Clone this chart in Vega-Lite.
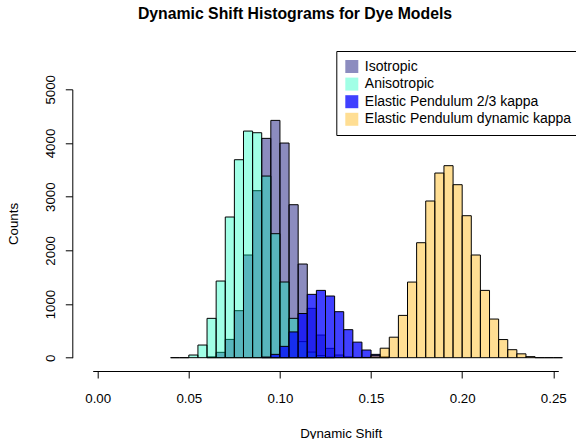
{
  "$schema": "https://vega.github.io/schema/vega-lite/v6.json",
  "autosize": {"type": "none"},
  "padding": {"left": 92.7, "top": 89.3, "right": 17.7, "bottom": 81.3},
  "width": 465.6,
  "height": 268.4,
  "background": "white",
  "title": {
    "text": "Dynamic Shift Histograms for Dye Models",
    "font": "Liberation Sans",
    "fontSize": 15.8,
    "fontWeight": "bold",
    "color": "black",
    "anchor": "middle",
    "frame": "group",
    "dx": -30.5,
    "offset": 28
  },
  "data": {
    "values": [
      {"model": "Isotropic", "bin_start": 0.060, "bin_end": 0.065, "count": 15},
      {"model": "Isotropic", "bin_start": 0.065, "bin_end": 0.070, "count": 100},
      {"model": "Isotropic", "bin_start": 0.070, "bin_end": 0.075, "count": 341},
      {"model": "Isotropic", "bin_start": 0.075, "bin_end": 0.080, "count": 876},
      {"model": "Isotropic", "bin_start": 0.080, "bin_end": 0.085, "count": 1913},
      {"model": "Isotropic", "bin_start": 0.085, "bin_end": 0.090, "count": 3111},
      {"model": "Isotropic", "bin_start": 0.090, "bin_end": 0.095, "count": 4086},
      {"model": "Isotropic", "bin_start": 0.095, "bin_end": 0.100, "count": 4421},
      {"model": "Isotropic", "bin_start": 0.100, "bin_end": 0.105, "count": 3999},
      {"model": "Isotropic", "bin_start": 0.105, "bin_end": 0.110, "count": 2850},
      {"model": "Isotropic", "bin_start": 0.110, "bin_end": 0.115, "count": 1745},
      {"model": "Isotropic", "bin_start": 0.115, "bin_end": 0.120, "count": 919},
      {"model": "Isotropic", "bin_start": 0.120, "bin_end": 0.125, "count": 422},
      {"model": "Isotropic", "bin_start": 0.125, "bin_end": 0.130, "count": 174},
      {"model": "Isotropic", "bin_start": 0.130, "bin_end": 0.135, "count": 50},
      {"model": "Isotropic", "bin_start": 0.135, "bin_end": 0.140, "count": 15},
      {"model": "Isotropic", "bin_start": 0.140, "bin_end": 0.145, "count": 5},
      {"model": "Anisotropic", "bin_start": 0.040, "bin_end": 0.045, "count": 0},
      {"model": "Anisotropic", "bin_start": 0.045, "bin_end": 0.050, "count": 0},
      {"model": "Anisotropic", "bin_start": 0.050, "bin_end": 0.055, "count": 50},
      {"model": "Anisotropic", "bin_start": 0.055, "bin_end": 0.060, "count": 236},
      {"model": "Anisotropic", "bin_start": 0.060, "bin_end": 0.065, "count": 733},
      {"model": "Anisotropic", "bin_start": 0.065, "bin_end": 0.070, "count": 1428},
      {"model": "Anisotropic", "bin_start": 0.070, "bin_end": 0.075, "count": 2621},
      {"model": "Anisotropic", "bin_start": 0.075, "bin_end": 0.080, "count": 3688},
      {"model": "Anisotropic", "bin_start": 0.080, "bin_end": 0.085, "count": 4222},
      {"model": "Anisotropic", "bin_start": 0.085, "bin_end": 0.090, "count": 4191},
      {"model": "Anisotropic", "bin_start": 0.090, "bin_end": 0.095, "count": 3384},
      {"model": "Anisotropic", "bin_start": 0.095, "bin_end": 0.100, "count": 2310},
      {"model": "Anisotropic", "bin_start": 0.100, "bin_end": 0.105, "count": 1410},
      {"model": "Anisotropic", "bin_start": 0.105, "bin_end": 0.110, "count": 733},
      {"model": "Anisotropic", "bin_start": 0.110, "bin_end": 0.115, "count": 300},
      {"model": "Anisotropic", "bin_start": 0.115, "bin_end": 0.120, "count": 105},
      {"model": "Anisotropic", "bin_start": 0.120, "bin_end": 0.125, "count": 40},
      {"model": "Anisotropic", "bin_start": 0.125, "bin_end": 0.130, "count": 10},
      {"model": "Elastic Pendulum 2/3 kappa", "bin_start": 0.090, "bin_end": 0.095, "count": 12},
      {"model": "Elastic Pendulum 2/3 kappa", "bin_start": 0.095, "bin_end": 0.100, "count": 62},
      {"model": "Elastic Pendulum 2/3 kappa", "bin_start": 0.100, "bin_end": 0.105, "count": 211},
      {"model": "Elastic Pendulum 2/3 kappa", "bin_start": 0.105, "bin_end": 0.110, "count": 480},
      {"model": "Elastic Pendulum 2/3 kappa", "bin_start": 0.110, "bin_end": 0.115, "count": 823},
      {"model": "Elastic Pendulum 2/3 kappa", "bin_start": 0.115, "bin_end": 0.120, "count": 1180},
      {"model": "Elastic Pendulum 2/3 kappa", "bin_start": 0.120, "bin_end": 0.125, "count": 1254},
      {"model": "Elastic Pendulum 2/3 kappa", "bin_start": 0.125, "bin_end": 0.130, "count": 1149},
      {"model": "Elastic Pendulum 2/3 kappa", "bin_start": 0.130, "bin_end": 0.135, "count": 857},
      {"model": "Elastic Pendulum 2/3 kappa", "bin_start": 0.135, "bin_end": 0.140, "count": 522},
      {"model": "Elastic Pendulum 2/3 kappa", "bin_start": 0.140, "bin_end": 0.145, "count": 290},
      {"model": "Elastic Pendulum 2/3 kappa", "bin_start": 0.145, "bin_end": 0.150, "count": 143},
      {"model": "Elastic Pendulum 2/3 kappa", "bin_start": 0.150, "bin_end": 0.155, "count": 62},
      {"model": "Elastic Pendulum 2/3 kappa", "bin_start": 0.155, "bin_end": 0.160, "count": 15},
      {"model": "Elastic Pendulum dynamic kappa", "bin_start": 0.145, "bin_end": 0.150, "count": 5},
      {"model": "Elastic Pendulum dynamic kappa", "bin_start": 0.150, "bin_end": 0.155, "count": 37},
      {"model": "Elastic Pendulum dynamic kappa", "bin_start": 0.155, "bin_end": 0.160, "count": 177},
      {"model": "Elastic Pendulum dynamic kappa", "bin_start": 0.160, "bin_end": 0.165, "count": 382},
      {"model": "Elastic Pendulum dynamic kappa", "bin_start": 0.165, "bin_end": 0.170, "count": 788},
      {"model": "Elastic Pendulum dynamic kappa", "bin_start": 0.170, "bin_end": 0.175, "count": 1409},
      {"model": "Elastic Pendulum dynamic kappa", "bin_start": 0.175, "bin_end": 0.180, "count": 2142},
      {"model": "Elastic Pendulum dynamic kappa", "bin_start": 0.180, "bin_end": 0.185, "count": 2919},
      {"model": "Elastic Pendulum dynamic kappa", "bin_start": 0.185, "bin_end": 0.190, "count": 3440},
      {"model": "Elastic Pendulum dynamic kappa", "bin_start": 0.190, "bin_end": 0.195, "count": 3577},
      {"model": "Elastic Pendulum dynamic kappa", "bin_start": 0.195, "bin_end": 0.200, "count": 3223},
      {"model": "Elastic Pendulum dynamic kappa", "bin_start": 0.200, "bin_end": 0.205, "count": 2645},
      {"model": "Elastic Pendulum dynamic kappa", "bin_start": 0.205, "bin_end": 0.210, "count": 1913},
      {"model": "Elastic Pendulum dynamic kappa", "bin_start": 0.210, "bin_end": 0.215, "count": 1254},
      {"model": "Elastic Pendulum dynamic kappa", "bin_start": 0.215, "bin_end": 0.220, "count": 720},
      {"model": "Elastic Pendulum dynamic kappa", "bin_start": 0.220, "bin_end": 0.225, "count": 338},
      {"model": "Elastic Pendulum dynamic kappa", "bin_start": 0.225, "bin_end": 0.230, "count": 149},
      {"model": "Elastic Pendulum dynamic kappa", "bin_start": 0.230, "bin_end": 0.235, "count": 72},
      {"model": "Elastic Pendulum dynamic kappa", "bin_start": 0.235, "bin_end": 0.240, "count": 20},
      {"model": "Elastic Pendulum dynamic kappa", "bin_start": 0.240, "bin_end": 0.245, "count": 0},
      {"model": "Elastic Pendulum dynamic kappa", "bin_start": 0.245, "bin_end": 0.250, "count": 0},
      {"model": "Elastic Pendulum dynamic kappa", "bin_start": 0.250, "bin_end": 0.255, "count": 0}
    ]
  },
  "mark": {"type": "bar", "stroke": "black", "strokeWidth": 1, "orient": "vertical"},
  "encoding": {
    "x": {
      "field": "bin_start",
      "type": "quantitative",
      "scale": {"domain": [0, 0.25], "nice": false, "zero": false},
      "axis": {
        "orient": "bottom",
        "offset": 13.3,
        "values": [0, 0.05, 0.1, 0.15, 0.2, 0.25],
        "format": ".2f",
        "grid": false,
        "tickSize": 7,
        "tickColor": "black",
        "domainColor": "black",
        "labelFont": "Liberation Sans",
        "labelFontSize": 13.3,
        "labelColor": "black",
        "labelPadding": 13,
        "labelFlush": false,
        "title": "Dynamic Shift",
        "titleFont": "Liberation Sans",
        "titleFontSize": 13.3,
        "titleFontWeight": "normal",
        "titleColor": "black",
        "titleAlign": "center",
        "titleBaseline": "alphabetic",
        "titleX": 248,
        "titleY": 66
      }
    },
    "x2": {"field": "bin_end"},
    "y": {
      "field": "count",
      "type": "quantitative",
      "stack": null,
      "scale": {"domain": [0, 5000], "nice": false},
      "axis": {
        "orient": "left",
        "offset": 20.4,
        "values": [0, 1000, 2000, 3000, 4000, 5000],
        "format": "d",
        "grid": false,
        "tickSize": 7,
        "tickColor": "black",
        "domainColor": "black",
        "labelFont": "Liberation Sans",
        "labelFontSize": 13.3,
        "labelColor": "black",
        "labelAngle": -90,
        "labelAlign": "center",
        "labelBaseline": "bottom",
        "labelPadding": 8,
        "labelFlush": false,
        "title": "Counts",
        "titleFont": "Liberation Sans",
        "titleFontSize": 13.3,
        "titleFontWeight": "normal",
        "titleColor": "black",
        "titleAngle": -90,
        "titleAlign": "center",
        "titleBaseline": "middle",
        "titleX": -59,
        "titleY": 134.2
      }
    },
    "y2": {"datum": 0},
    "color": {
      "field": "model",
      "type": "nominal",
      "scale": {
        "domain": ["Isotropic", "Anisotropic", "Elastic Pendulum 2/3 kappa", "Elastic Pendulum dynamic kappa"],
        "range": ["rgba(26,26,128,0.5)", "rgba(0,255,187,0.37)", "rgba(0,0,255,0.75)", "rgba(255,190,40,0.5)"]
      },
      "legend": {
        "orient": "none",
        "legendX": 243.6,
        "legendY": -38.3,
        "title": null,
        "symbolType": "square",
        "symbolSize": 169,
        "symbolStrokeWidth": 0,
        "labelFont": "Liberation Sans",
        "labelFontSize": 14,
        "labelColor": "black",
        "labelOffset": 6,
        "labelLimit": 0,
        "rowPadding": 3.6,
        "padding": 8.5,
        "strokeColor": "black",
        "fillColor": "white"
      }
    }
  },
  "config": {
    "view": {"stroke": null},
    "font": "Liberation Sans"
  }
}
